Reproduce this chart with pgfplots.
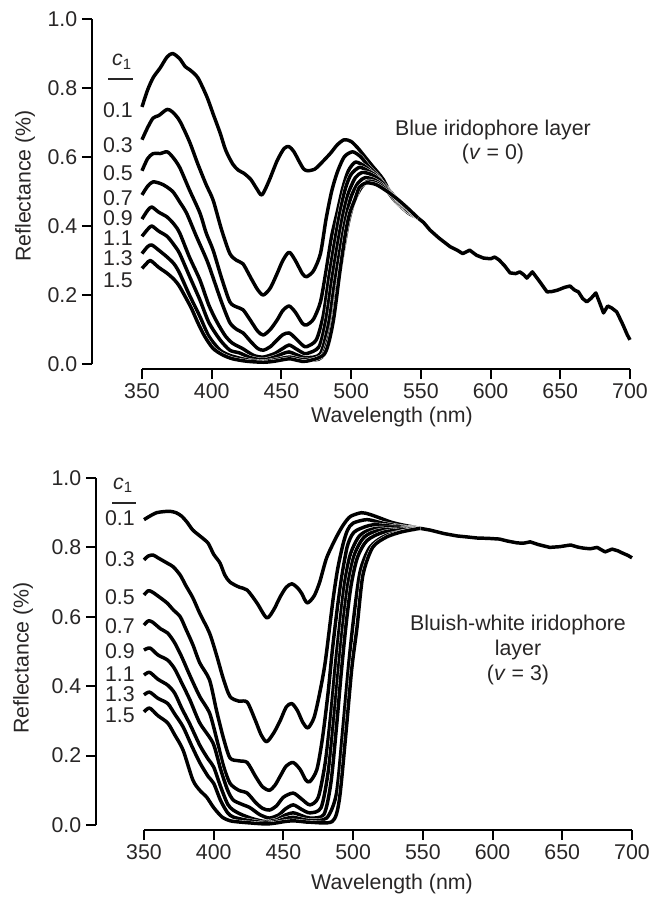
\documentclass[border=0pt]{standalone}
\usepackage{pgfplots}
\usepackage{pgfplotstable}
\pgfplotsset{compat=1.18}
\usepackage{fontspec}
\setmainfont{Liberation Sans}
\definecolor{txt}{RGB}{40,38,38}

% ---------- top panel (v = 0) ----------
\pgfplotstableread{
x y
350 0.745
354 0.794
358 0.83
363 0.858
368 0.89
372 0.90
377 0.885
381 0.862
384.5 0.852
390 0.83
396.5 0.775
401 0.725
406 0.67
410 0.62
415 0.58
419 0.562
423 0.553
428 0.535
432 0.51
436 0.49
441 0.53
447 0.59
452 0.625
455.5 0.63
459 0.615
463 0.585
466 0.565
469 0.56
474 0.565
478 0.58
485 0.61
490 0.635
495 0.65
500 0.645
505 0.625
510 0.60
515 0.575
523 0.535
530 0.48
536 0.455
542 0.435
548 0.423
}\tA
\pgfplotstableread{
x y
350 0.65
354 0.685
358 0.713
362 0.72
368 0.738
372 0.73
377 0.705
384 0.645
390 0.58
396 0.52
401 0.475
407 0.39
413 0.32
418 0.30
422.5 0.29
428 0.25
433 0.215
437 0.20
442 0.22
447 0.263
451 0.30
455.5 0.324
460 0.30
465 0.262
468 0.253
473 0.27
478 0.32
482 0.42
486 0.50
490 0.555
495 0.60
501 0.615
507 0.60
513 0.57
520 0.54
530 0.48
540 0.445
548 0.423
}\tB
\pgfplotstableread{
x y
350 0.56
354 0.595
358 0.61
363 0.61
368 0.615
372 0.60
377 0.57
384 0.505
391.6 0.437
396 0.38
401 0.33
407 0.25
413 0.18
418 0.165
422.5 0.157
428 0.125
433 0.095
437 0.084
442 0.10
447 0.128
451 0.155
455.5 0.168
460 0.15
465 0.118
468 0.113
473 0.13
478 0.18
482 0.27
486 0.37
490 0.44
494 0.51
498 0.56
503 0.585
509 0.575
515 0.555
522 0.525
530 0.48
540 0.445
548 0.423
}\tC
\pgfplotstableread{
x y
350 0.49
354 0.515
358 0.528
365 0.52
372 0.50
377 0.47
382 0.437
389 0.37
396.6 0.30
401 0.25
407 0.18
413 0.12
418 0.10
422.5 0.09
428 0.065
433 0.045
437 0.04
442 0.05
447 0.07
451 0.085
455.5 0.09
460 0.075
465 0.055
468 0.05
475 0.07
480 0.14
484 0.25
488 0.35
492 0.44
496 0.51
500 0.55
506 0.57
512 0.56
518 0.545
525 0.51
532 0.475
540 0.445
548 0.423
}\tD
\pgfplotstableread{
x y
350 0.42
354 0.445
357 0.455
362 0.44
368 0.426
373 0.405
377 0.38
384 0.31
391.6 0.243
398 0.17
404 0.12
410 0.08
415 0.06
422 0.045
430 0.025
437 0.02
445 0.03
451 0.045
455.5 0.055
460 0.045
465 0.033
468 0.03
477 0.05
482 0.13
486 0.24
490 0.34
494 0.43
498 0.495
503 0.54
508 0.555
514 0.55
520 0.535
527 0.505
534 0.47
541 0.443
548 0.423
}\tE
\pgfplotstableread{
x y
350 0.37
354 0.39
357 0.40
362 0.385
368 0.37
373 0.345
377 0.32
384 0.255
391.6 0.185
398 0.12
406 0.07
413 0.04
420 0.032
428 0.018
437 0.012
445 0.02
451 0.03
455.5 0.035
460 0.028
465 0.02
468 0.018
478 0.03
484 0.12
488 0.23
492 0.33
496 0.42
500 0.485
505 0.525
510 0.54
516 0.535
522 0.52
529 0.495
536 0.465
548 0.423
}\tF
\pgfplotstableread{
x y
350 0.32
354 0.34
357 0.345
362 0.33
368 0.31
373 0.29
377 0.263
384 0.20
391.6 0.137
398 0.08
406 0.04
413 0.025
420 0.017
428 0.01
437 0.007
445 0.012
455.5 0.02
462 0.015
468 0.012
479 0.02
486 0.11
490 0.22
494 0.32
498 0.41
502 0.47
507 0.51
512 0.53
518 0.525
524 0.51
531 0.485
538 0.46
548 0.423
}\tG
\pgfplotstableread{
x y
350 0.277
353 0.29
356 0.30
362 0.28
368 0.263
373 0.245
377 0.224
385 0.165
390 0.12
395 0.08
401 0.045
408 0.026
415 0.015
425 0.008
437 0.005
445 0.008
455.5 0.015
462 0.01
468 0.008
481 0.03
487 0.12
492 0.27
496 0.38
499 0.437
503 0.48
506 0.513
511 0.525
518 0.52
526 0.50
534 0.475
541 0.45
548 0.423
}\tH
\pgfplotstableread{
x y
548 0.423
552 0.41
556.6 0.388
563 0.365
571 0.34
576 0.33
580 0.32
585 0.33
590 0.315
595 0.307
600 0.305
603 0.31
606 0.302
610 0.285
614 0.264
618 0.262
621 0.267
624 0.258
626 0.249
630 0.267
635 0.24
640.5 0.209
644 0.21
648 0.214
653 0.222
657 0.226
660 0.215
663 0.209
666 0.19
669 0.18
672 0.19
675.5 0.206
678 0.18
681 0.148
684 0.168
687 0.162
690.5 0.151
693 0.13
695 0.113
698 0.085
700 0.07
}\tT

% ---------- bottom panel (v = 3) ----------
\pgfplotstableread{
x y
350 0.88
355 0.892
359 0.90
364 0.903
368.6 0.904
373 0.90
377 0.89
381 0.872
385 0.85
391 0.83
396 0.812
400 0.78
404.5 0.755
408 0.72
411.7 0.70
418 0.686
424 0.677
431 0.64
438 0.597
443 0.62
447.6 0.657
452 0.685
456 0.695
460 0.684
463 0.668
467 0.64
472 0.66
476 0.70
481 0.77
488 0.83
493 0.865
498 0.889
506 0.90
512 0.895
519 0.885
527 0.873
535 0.865
548 0.855
}\bA
\pgfplotstableread{
x y
350 0.764
353 0.775
356.5 0.778
360 0.77
366.5 0.755
371 0.744
376 0.72
380 0.69
385 0.655
390 0.61
397 0.553
402 0.49
407 0.42
411.7 0.37
418 0.357
424 0.354
430 0.30
434 0.26
438 0.24
443 0.265
447.6 0.30
452 0.34
456 0.35
460 0.33
464 0.295
467.6 0.28
472 0.31
476 0.38
480 0.47
485.6 0.65
489 0.74
492.8 0.81
496 0.85
500 0.87
510 0.88
521 0.87
535 0.86
548 0.855
}\bB
\pgfplotstableread{
x y
350 0.663
353 0.675
355.7 0.672
360 0.66
366.5 0.64
371 0.62
376 0.60
380 0.565
385 0.52
390 0.467
397 0.418
402 0.33
407 0.25
411.7 0.193
418 0.185
424 0.18
430 0.14
435 0.11
440 0.10
444 0.115
447.6 0.14
452 0.17
457 0.18
462 0.16
466 0.13
469 0.125
474 0.16
478 0.25
482 0.38
485 0.50
488.5 0.62
492 0.72
495.6 0.80
499 0.835
502.8 0.85
514 0.865
530 0.86
548 0.855
}\bC
\pgfplotstableread{
x y
350 0.576
353 0.588
356 0.585
362 0.565
367 0.553
372 0.525
377 0.485
383 0.43
390 0.37
397 0.323
402 0.25
407 0.17
411.7 0.12
418 0.10
424 0.092
430 0.065
435 0.048
440 0.043
445 0.055
450 0.08
457 0.092
463 0.075
469 0.058
475 0.08
480 0.18
484 0.32
487.5 0.47
491 0.60
494 0.70
498 0.78
505 0.835
517 0.855
548 0.855
}\bD
\pgfplotstableread{
x y
350 0.504
354.3 0.51
360 0.49
367 0.475
372 0.45
377 0.41
383 0.36
390 0.294
399.5 0.236
405 0.16
410 0.10
414 0.072
420 0.06
426 0.05
433 0.03
440 0.02
447 0.03
451 0.045
457 0.058
463 0.045
469 0.035
477 0.05
482 0.15
486 0.30
489.5 0.45
493 0.59
496.5 0.70
501 0.78
508 0.83
520 0.85
548 0.855
}\bE
\pgfplotstableread{
x y
350 0.432
354 0.44
360 0.42
367 0.403
372 0.38
377 0.337
383 0.29
390 0.23
396 0.19
400 0.167
405 0.11
410 0.06
414 0.043
420 0.03
428 0.018
437 0.01
445 0.015
451 0.028
457 0.035
463 0.027
469 0.02
479 0.03
484 0.12
488 0.28
491.5 0.44
495 0.58
498.5 0.69
503 0.77
510 0.82
523 0.845
548 0.855
}\bF
\pgfplotstableread{
x y
350 0.375
354 0.383
360 0.365
367 0.35
372 0.32
378 0.283
384 0.23
390 0.18
396 0.14
400 0.12
405 0.07
410 0.035
414 0.023
422 0.015
430 0.01
437 0.006
445 0.01
451 0.018
457 0.022
463 0.017
469 0.013
481 0.02
488 0.09
492.5 0.27
497 0.47
500.5 0.60
505 0.73
512 0.80
524 0.835
548 0.855
}\bG
\pgfplotstableread{
x y
350 0.326
354 0.337
360 0.315
367 0.294
372 0.26
378 0.216
385 0.13
390 0.10
395 0.08
400 0.05
406 0.023
412 0.012
420 0.008
437 0.003
445 0.006
451 0.01
457 0.012
463 0.01
469 0.008
485 0.01
490 0.07
494.5 0.25
499 0.45
502.8 0.57
507 0.72
514 0.80
524 0.83
535 0.845
548 0.855
}\bH
\pgfplotstableread{
x y
548 0.855
555 0.85
565 0.84
574.5 0.833
582 0.83
589 0.827
597 0.826
605 0.824
611 0.818
617.6 0.813
622 0.812
627 0.816
633 0.808
641 0.80
648 0.802
656 0.807
661 0.801
665 0.798
670 0.796
675 0.80
680.7 0.787
685.7 0.795
690 0.79
693 0.784
697 0.777
700 0.77
}\bT

\pgfplotsset{
  panel/.style={
    scale only axis, width=366pt,
    xmin=350, xmax=700, ymin=0, ymax=1,
    axis x line=bottom, axis y line=left,
    axis line style={-, line width=1.4pt, black},
    every outer x axis line/.append style={-},
    every outer y axis line/.append style={-},
    xtick={350,400,450,500,550,600,650,700},
    ytick={0,0.2,0.4,0.6,0.8,1.0},
    tick align=outside, major tick length=7.5pt,
    tick style={line width=1.4pt, black},
    yticklabel style={/pgf/number format/.cd, fixed, fixed zerofill, precision=1},
    xticklabel style={/pgf/number format/.cd, 1000 sep={}},
    /pgf/number format/assume math mode=true,
    ticklabel style={font=\fontsize{16}{19}\selectfont, text=txt},
    clip=false,
  },
  curve/.style={black, line width=2.6pt, smooth, tension=0.45, line join=round,
    preaction={draw=white, line width=3.2pt}},
  tail/.style={black, line width=2.6pt, line join=round},
}

\begin{document}
\begin{tikzpicture}
\useasboundingbox (0,0) rectangle (497.25pt,679.5pt);
\begin{axis}[panel, at={(106.5pt,406.5pt)}, anchor=south west, height=258.75pt,
  axis x line shift=3.75pt, axis y line shift=37.5pt]
\addplot[tail] table {\tT};
\addplot[curve] table {\tA};
\addplot[curve] table {\tB};
\addplot[curve] table {\tC};
\addplot[curve] table {\tD};
\addplot[curve] table {\tE};
\addplot[curve] table {\tF};
\addplot[curve] table {\tG};
\addplot[curve] table {\tH};
\end{axis}
\begin{axis}[panel, at={(108pt,60.75pt)}, anchor=south west, height=260.25pt,
  axis x line shift=3.75pt, axis y line shift=36pt]
\addplot[tail] table {\bT};
\addplot[curve] table {\bA};
\addplot[curve] table {\bB};
\addplot[curve] table {\bC};
\addplot[curve] table {\bD};
\addplot[curve] table {\bE};
\addplot[curve] table {\bF};
\addplot[curve] table {\bG};
\addplot[curve] table {\bH};
\end{axis}

\begin{scope}[every node/.style={text=txt, font=\fontsize{16}{18.5}\selectfont, inner sep=0pt}]
% axis labels
\node[rotate=90] at (18.75pt,540pt) {Reflectance (\%)};
\node at (294pt,367pt) {Wavelength (nm)};
\node[rotate=90] at (17.25pt,186pt) {Reflectance (\%)};
\node at (294pt,16.5pt) {Wavelength (nm)};
% annotations
\node[align=center] at (369.75pt,573pt) {Blue iridophore layer\\(\textit{v} = 0)};
\node[align=center] at (388.5pt,192pt) {Bluish-white iridophore\\layer\\(\textit{v} = 3)};
% c1 labels top
\node at (91.5pt,633pt) {\textit{c}\textsubscript{1}};
\draw[line width=1.2pt, txt] (81pt,620.25pt) -- (99.75pt,620.25pt);
\node[anchor=east] at (99.75pt,597pt) {0.1};
\node[anchor=east] at (99.75pt,570.75pt) {0.3};
\node[anchor=east] at (99.75pt,549.75pt) {0.5};
\node[anchor=east] at (99.75pt,531pt) {0.7};
\node[anchor=east] at (99.75pt,516pt) {0.9};
\node[anchor=east] at (99.75pt,501pt) {1.1};
\node[anchor=east] at (99.75pt,486pt) {1.3};
\node[anchor=east] at (99.75pt,469.5pt) {1.5};
% c1 labels bottom
\node at (92.25pt,315.75pt) {\textit{c}\textsubscript{1}};
\draw[line width=1.2pt, txt] (84pt,302.25pt) -- (102pt,302.25pt);
\node[anchor=east] at (101.25pt,291pt) {0.1};
\node[anchor=east] at (101.25pt,260.25pt) {0.3};
\node[anchor=east] at (101.25pt,231.75pt) {0.5};
\node[anchor=east] at (101.25pt,210pt) {0.7};
\node[anchor=east] at (101.25pt,191.25pt) {0.9};
\node[anchor=east] at (101.25pt,174pt) {1.1};
\node[anchor=east] at (101.25pt,159pt) {1.3};
\node[anchor=east] at (101.25pt,143.25pt) {1.5};
\end{scope}
\end{tikzpicture}
\end{document}
